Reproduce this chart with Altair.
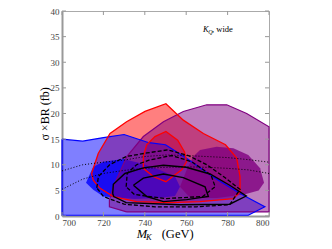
import altair as alt
import pandas as pd

# ---- data ----
blue_outer_x = [700, 710, 720, 730, 742, 750, 760, 773, 786, 798, 790, 700]
blue_outer_y = [15.0, 14.6, 15.3, 15.9, 14.3, 13.9, 11.3, 7.6, 4.4, 1.8, 0.15, 0.15]

blue_inner_x = [711.6, 713.6, 715.1, 720, 729.6, 738, 747.3, 754.6, 757, 754.6, 747.3, 735, 720, 715.1]
blue_inner_y = [6.5, 8.3, 9.6, 10.6, 11.1, 10.3, 9.0, 7.7, 5.7, 3.9, 3.5, 3.3, 3.8, 5.1]

red_outer_x = [714.3, 717.5, 723.2, 731.2, 740.1, 750.2, 758.6, 768.3, 779, 784.4, 786, 786, 782.8, 766.7, 752.2, 736, 724.8, 718.4, 715.1]
red_outer_y = [8.3, 12.2, 16.1, 18.4, 20.4, 21.9, 18.7, 16.1, 13.9, 11.3, 7.7, 4.7, 3.4, 2.8, 2.6, 2.8, 3.8, 5.4, 7.0]

red_inner_x = [739.3, 740.9, 744.9, 750.2, 755.9, 759.2, 760.2, 757.8, 750.2, 744.1, 739.3]
red_inner_y = [11.6, 13.9, 15.5, 16.5, 14.8, 12.5, 10.6, 9.0, 6.7, 7.7, 9.3]

purple_outer_x = [731.2, 722.9, 722.9, 724.8, 731.3, 739.3, 749, 758.6, 769.9, 779.6, 789.2, 800, 800]
purple_outer_y = [0.8, 1.8, 3.1, 5.7, 11.6, 15.5, 18.4, 20.4, 21.7, 21.7, 20.0, 17.4, 0.8]

purple_inner_x = [757, 760.2, 763.4, 766.7, 774.7, 782.8, 790, 795.7, 797.6, 795, 788, 775, 762]
purple_inner_y = [5.7, 9.0, 11.6, 12.9, 13.5, 13.2, 11.9, 9.3, 6.5, 5.0, 4.2, 3.5, 3.5]

dot_x = [700, 710, 720, 730, 740, 750, 760, 770, 780, 790, 800]
dot_upper_y = [8.8, 10.0, 10.5, 10.9, 11.6, 11.9, 11.8, 11.6, 11.4, 11.0, 10.5]
dot_lower_y = [5.2, 7.2, 8.3, 8.9, 9.3, 9.5, 9.6, 9.5, 9.3, 9.0, 8.3]

dash_outer_x = [716.8, 717.6, 723, 731, 741, 751, 761, 770, 778, 786, 781, 765, 745, 730, 720, 716.8]
dash_outer_y = [5.5, 7.7, 10.0, 11.6, 12.3, 12.9, 11.8, 10.0, 7.7, 5.2, 2.2, 1.8, 1.8, 2.3, 3.8, 5.5]
dash_inner_x = [731, 731.5, 736, 742, 753, 762.6, 772, 774, 768, 750, 735, 731]
dash_inner_y = [5.7, 8.3, 10.0, 10.9, 11.8, 10.6, 8.0, 5.7, 3.8, 3.4, 4.2, 5.7]

solid_outer_x = [724.5, 724.8, 730.4, 739.3, 749, 760, 771.5, 781, 789, 781, 757, 731, 725, 724.5]
solid_outer_y = [4.4, 6.2, 8.3, 9.4, 9.9, 9.5, 8.2, 6.0, 3.9, 2.3, 2.2, 2.6, 3.8, 4.4]
solid_inner_x = [734.5, 739.3, 749, 758.6, 769.1, 770.7, 760.2, 749, 741, 734.5]
solid_inner_y = [6.0, 7.4, 8.2, 7.5, 5.7, 3.8, 3.2, 2.8, 3.8, 6.0]

x_ticks = [700, 720, 740, 760, 780, 800]
y_ticks = [0, 5, 10, 15, 20, 25, 30, 35, 40]

SERIF = "Liberation Serif"
W, H = 207, 205
TICK = 4

xs = alt.Scale(domain=[700, 800], nice=False, zero=False)
ys = alt.Scale(domain=[0, 40], nice=False)

x_axis = alt.Axis(values=x_ticks, title=None, grid=False, labelFont=SERIF, labelFontSize=9,
                  labelColor="#444", ticks=False, domainColor="#999", domainWidth=2,
                  labelPadding=2)
y_axis = alt.Axis(values=y_ticks, title="σ ×BR (fb)", grid=False, labelFont=SERIF, labelFontSize=9,
                  labelColor="#444", ticks=False, domainColor="#999", domainWidth=2,
                  labelPadding=3, titleFont=SERIF, titleFontSize=12,
                  titleFontWeight="normal", titleColor="black", titleX=-11, titleY=H / 2,
                  titleBaseline="bottom", titleAngle=-90)


def closed(xv, yv):
    xv = list(xv)
    yv = list(yv)
    if xv[0] != xv[-1] or yv[0] != yv[-1]:
        xv = xv + [xv[0]]
        yv = yv + [yv[0]]
    return xv, yv


def enc(chart):
    return chart.encode(x=alt.X("x:Q", scale=xs, axis=x_axis),
                        y=alt.Y("y:Q", scale=ys, axis=y_axis),
                        order="i:Q")


def poly_fill(xv, yv, color, op):
    xv, yv = closed(xv, yv)
    df = pd.DataFrame({"x": xv, "y": yv, "i": range(len(xv))})
    return enc(alt.Chart(df).mark_line(fill=color, fillOpacity=op, strokeOpacity=0, strokeWidth=0,
                                       interpolate="linear"))


def poly_line(xv, yv, color, width=1.0, dash=None, close=True):
    if close:
        xv, yv = closed(xv, yv)
    df = pd.DataFrame({"x": xv, "y": yv, "i": range(len(xv))})
    kw = dict(stroke=color, strokeWidth=width, color=color)
    if dash:
        kw["strokeDash"] = dash
    return enc(alt.Chart(df).mark_line(**kw))


layers = [
    poly_fill(red_outer_x, red_outer_y, "red", 0.5),
    poly_fill(red_inner_x, red_inner_y, "red", 0.5),
    poly_fill(blue_outer_x, blue_outer_y, "blue", 0.5),
    poly_fill(blue_inner_x, blue_inner_y, "blue", 0.8),
    poly_fill(purple_outer_x, purple_outer_y, "purple", 0.5),
    poly_fill(purple_inner_x, purple_inner_y, "purple", 0.8),
    poly_line(purple_outer_x, purple_outer_y, "purple", 1.2),
    poly_line(blue_outer_x, blue_outer_y, "blue", 1.2),
    poly_line(red_outer_x, red_outer_y, "red", 1.3),
    poly_line(red_inner_x, red_inner_y, "red", 1.3),
    poly_line(dot_x, dot_upper_y, "black", 1.0, [1, 2], close=False),
    poly_line(dot_x, dot_lower_y, "black", 1.0, [1, 2], close=False),
    poly_line(dash_outer_x, dash_outer_y, "black", 1.3, [4, 2]),
    poly_line(dash_inner_x, dash_inner_y, "black", 1.3, [4, 2]),
    poly_line(solid_outer_x, solid_outer_y, "black", 1.4),
    poly_line(solid_inner_x, solid_inner_y, "black", 1.4),
]

# inward ticks on all four sides
xt = pd.DataFrame({"x": x_ticks})
yt = pd.DataFrame({"y": y_ticks})
tick_layers = [
    alt.Chart(xt).mark_rule(color="#999", strokeWidth=1).encode(
        x=alt.X("x:Q", scale=xs, axis=x_axis), y=alt.value(H), y2=alt.value(H - TICK)),
    alt.Chart(xt).mark_rule(color="#999", strokeWidth=1).encode(
        x=alt.X("x:Q", scale=xs, axis=x_axis), y=alt.value(0), y2=alt.value(TICK)),
    alt.Chart(yt).mark_rule(color="#999", strokeWidth=1).encode(
        y=alt.Y("y:Q", scale=ys, axis=y_axis), x=alt.value(0), x2=alt.value(TICK)),
    alt.Chart(yt).mark_rule(color="#999", strokeWidth=1).encode(
        y=alt.Y("y:Q", scale=ys, axis=y_axis), x=alt.value(W), x2=alt.value(W - TICK)),
]


def txt(t, x, y, size, italic=False):
    df = pd.DataFrame({"t": [t]})
    return alt.Chart(df).mark_text(font=SERIF, fontSize=size, align="left", baseline="alphabetic",
                                   fontStyle="italic" if italic else "normal",
                                   fill="black", color="black").encode(
        x=alt.value(x), y=alt.value(y), text="t:N")


labels = [
    txt("M", 74.7, 226.5, 12.5, True),
    txt("K", 84, 229, 8.5, True),
    txt("(GeV)", 99.7, 226.5, 12.5),
    txt("K", 141, 21, 8.5, True),
    txt("Q", 146.3, 23, 6, True),
    txt(", wide", 150, 21, 8.5),
]

chart = alt.layer(*layers, *tick_layers, *labels).properties(
    width=W, height=H,
    autosize=alt.AutoSizeParams(type="none"),
    padding={"left": 54, "top": 3, "right": 5, "bottom": 28},
).configure_view(stroke="#aaa", strokeWidth=1)

chart.save("out.html", embed_options={"renderer": "svg", "actions": False})
